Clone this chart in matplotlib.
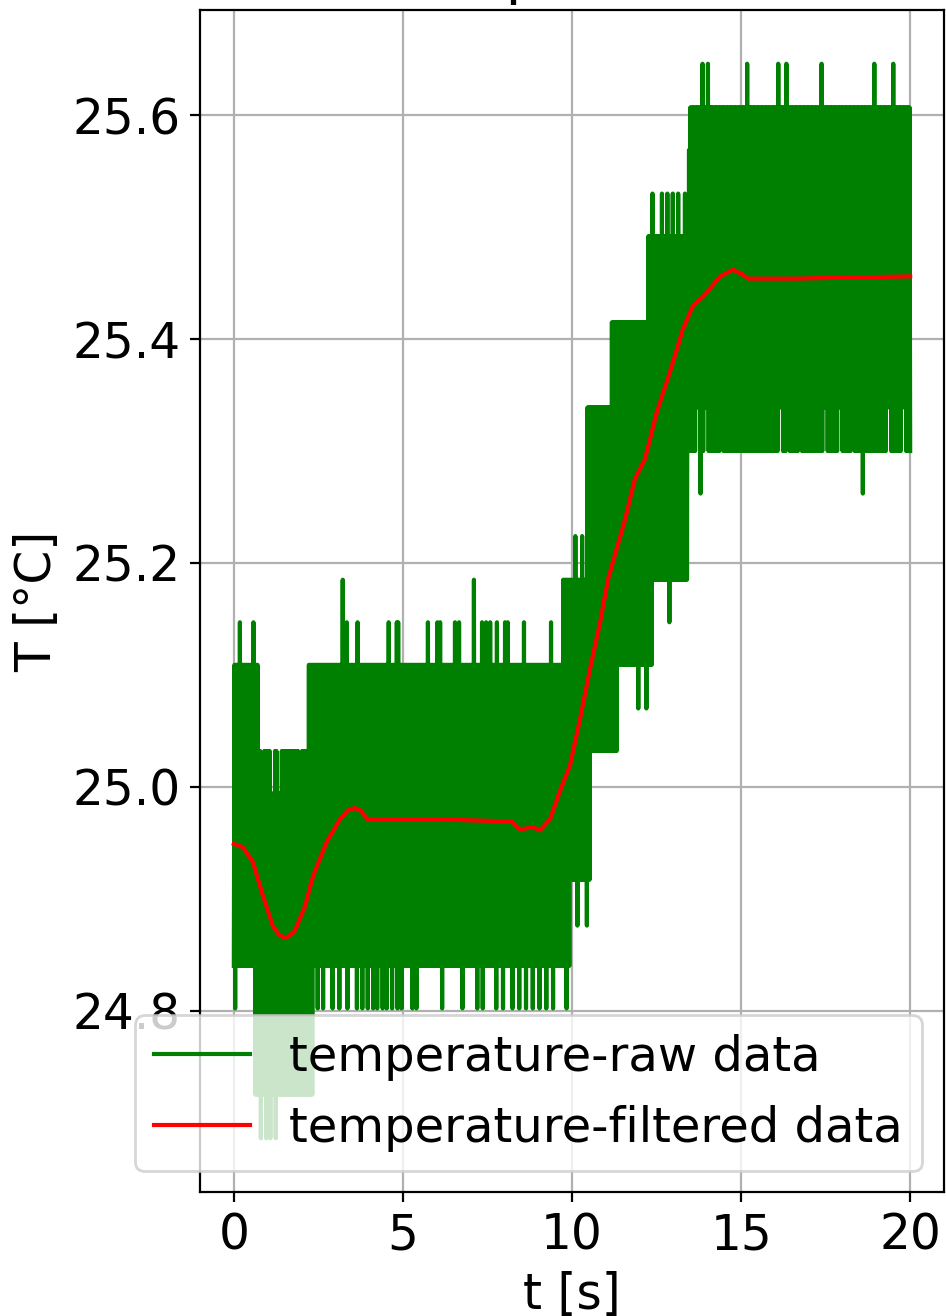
import numpy as np
import matplotlib
matplotlib.use("Agg")
import matplotlib.pyplot as plt

# ---------------- data ----------------
# Raw sensor signal: lower / upper envelope of the dense raw trace (step segments)
lo_edges = [0.0, 0.62, 2.34, 9.94, 10.53, 11.36, 12.37, 13.43, 20.0]
lo_vals = [24.840, 24.725, 24.840, 24.917, 25.032, 25.109, 25.185, 25.300]
hi_edges = [0.0, 0.71, 2.22, 9.73, 10.44, 11.18, 12.25, 13.43, 13.49, 20.0]
hi_vals = [25.109, 25.032, 25.109, 25.185, 25.339, 25.415, 25.492, 25.569, 25.607]

# short stretches where the raw trace does not reach its envelope (start time, level reached)
gap_lo_t = [13.67, 13.91, 14.38, 16.12, 16.33, 16.69, 17.43, 17.87, 18.25, 19.32, 19.76]
gap_lo_T = [25.339] * 11
gap_hi_t = [0.80, 1.09, 1.30, 1.92]
gap_hi_T = [24.994] * 4
gap_len = 0.10

# isolated upward spikes of the raw trace (time [s], temperature [°C])
spike_up_t = [0.18, 0.59, 3.22, 7.10,
              3.34, 3.64, 4.56, 4.82, 4.85, 5.74, 6.01, 6.09, 6.54, 6.63,
              7.34, 7.43, 7.57, 7.78, 8.02, 8.11, 8.58, 9.38,
              10.09, 10.30,
              12.37, 12.66, 12.81, 12.96, 13.11, 13.34,
              13.85, 13.99, 15.18, 16.07, 16.33, 17.37, 18.91, 19.50]
spike_up_T = [25.147, 25.147, 25.185, 25.185,
              25.147, 25.147, 25.147, 25.147, 25.147, 25.147, 25.147, 25.147, 25.147, 25.147,
              25.147, 25.147, 25.147, 25.147, 25.147, 25.147, 25.147, 25.147,
              25.224, 25.224,
              25.530, 25.530, 25.530, 25.530, 25.530, 25.530,
              25.646, 25.646, 25.646, 25.646, 25.646, 25.646, 25.646, 25.646]

# isolated downward spikes of the raw trace
spike_dn_t = [0.06, 0.80, 0.95, 1.10, 1.25,
              2.51, 2.66, 2.93, 3.11, 3.37, 3.64, 3.82, 3.96, 4.11, 4.23, 4.41,
              4.53, 4.70, 4.85, 4.97, 5.27, 5.41, 6.15, 6.75, 7.19, 7.37, 7.78,
              7.96, 8.25, 8.46, 8.64, 8.85, 9.05, 9.26, 9.44, 9.85,
              10.18, 10.44, 11.95, 12.22, 12.87, 13.82, 18.61]
spike_dn_T = [24.802, 24.686, 24.686, 24.686, 24.686,
              24.802, 24.802, 24.802, 24.802, 24.802, 24.802, 24.802, 24.802, 24.802, 24.802, 24.802,
              24.802, 24.802, 24.802, 24.802, 24.802, 24.802, 24.802, 24.802, 24.802, 24.802, 24.802,
              24.802, 24.802, 24.802, 24.802, 24.802, 24.802, 24.802, 24.802, 24.802,
              24.876, 24.876, 25.070, 25.070, 25.147, 25.262, 25.262]

# Filtered signal
filt_t = [0.00, 0.27, 0.56, 0.86, 1.15, 1.33, 1.51, 1.66, 1.80, 2.10, 2.34, 2.75,
          3.14, 3.37, 3.58, 3.73, 3.82, 3.96, 5.89, 8.22, 8.46, 8.67, 8.85, 9.05,
          9.35, 9.64, 9.94, 10.24, 10.53, 10.83, 11.07, 11.57, 11.86, 12.16, 12.51,
          12.90, 13.28, 13.58, 13.88, 14.38, 14.76, 15.03, 15.21, 16.54, 20.00]
filt_T = [24.949, 24.946, 24.933, 24.903, 24.876, 24.868, 24.865, 24.867, 24.871,
          24.893, 24.920, 24.951, 24.971, 24.979, 24.981, 24.979, 24.976, 24.971,
          24.971, 24.969, 24.962, 24.963, 24.964, 24.961, 24.971, 24.996, 25.019,
          25.061, 25.105, 25.147, 25.186, 25.239, 25.275, 25.293, 25.335, 25.371,
          25.409, 25.430, 25.438, 25.456, 25.462, 25.458, 25.454, 25.454, 25.456]

# ---------------- build raw trace from the read envelope ----------------
dt = 0.02
t_raw = np.round(np.arange(0.0, 20.0 + dt / 2, dt), 4)
lo_at = np.array(lo_vals)[np.clip(np.searchsorted(lo_edges, t_raw, side="right") - 1, 0, len(lo_vals) - 1)]
hi_at = np.array(hi_vals)[np.clip(np.searchsorted(hi_edges, t_raw, side="right") - 1, 0, len(hi_vals) - 1)]
for tg, Tg in zip(gap_lo_t, gap_lo_T):
    lo_at[(t_raw >= tg) & (t_raw < tg + gap_len)] = Tg
for tg, Tg in zip(gap_hi_t, gap_hi_T):
    hi_at[(t_raw >= tg) & (t_raw < tg + gap_len)] = Tg
T_raw = np.where(np.arange(len(t_raw)) % 2 == 0, lo_at, hi_at)
for ts, Ts in zip(spike_up_t, spike_up_T):
    T_raw[int(round(ts / dt)) | 1] = Ts
for ts, Ts in zip(spike_dn_t, spike_dn_T):
    i = int(round(ts / dt))
    T_raw[i - (i % 2)] = Ts

# ---------------- figure ----------------
plt.rcParams.update({"font.size": 17.5, "font.family": "DejaVu Sans"})
fig = plt.figure(figsize=(9.46 / 2, 13.16 / 2), dpi=200)
ax = fig.add_axes([200 / 946, 1 - 1192 / 1316, 744 / 946, 1182 / 1316])

ax.plot(t_raw, T_raw, color="green", lw=1.5, label="temperature-raw data")
ax.plot(filt_t, filt_T, color="red", lw=1.5, label="temperature-filtered data")

ax.set_xlabel("t [s]")
ax.set_ylabel("T [°C]")
ax.set_title("Temperature")
ax.grid(True)
ax.set_xticks([0, 5, 10, 15, 20])
ax.set_yticks([24.8, 25.0, 25.2, 25.4, 25.6])

ax.legend(loc="upper left", bbox_to_anchor=(135 / 946, 1 - 1015 / 1316),
          bbox_transform=fig.transFigure, borderaxespad=0.0, fontsize=17.3)

fig.savefig("out.png", dpi=200)
